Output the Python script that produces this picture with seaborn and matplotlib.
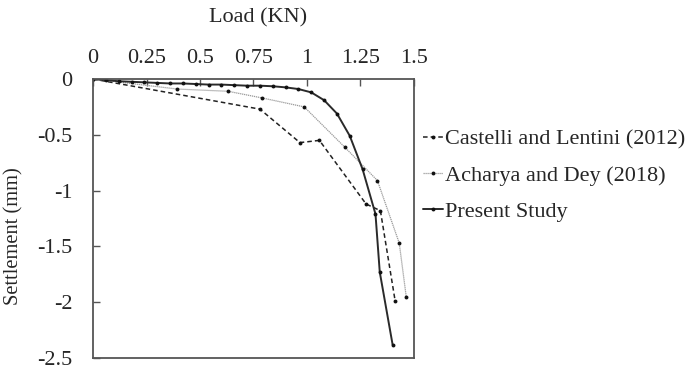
import matplotlib
matplotlib.use("Agg")
import matplotlib.pyplot as plt
import seaborn as sns
import pandas as pd

# Data
castelli_load = [0, 0.78, 0.967, 1.058, 1.276, 1.343, 1.412]
castelli_settle = [0, -0.27, -0.57, -0.55, -1.12, -1.18, -1.99]

acharya_load = [0, 0.394, 0.631, 0.791, 0.987, 1.176, 1.329, 1.431, 1.464]
acharya_settle = [0, -0.09, -0.11, -0.17, -0.25, -0.61, -0.91, -1.47, -1.955]

present_load = [0, 0.06, 0.12, 0.18, 0.24, 0.30, 0.36, 0.42, 0.48, 0.54, 0.60,
                0.66, 0.72, 0.78, 0.84, 0.90, 0.96, 1.02, 1.08, 1.14, 1.20,
                1.26, 1.32, 1.34, 1.40]
present_settle = [0, -0.01, -0.02, -0.025, -0.03, -0.035, -0.04, -0.04, -0.045,
                  -0.05, -0.05, -0.055, -0.06, -0.06, -0.065, -0.075, -0.09,
                  -0.12, -0.19, -0.31, -0.51, -0.81, -1.21, -1.73, -2.38]

x_ticks = [0, 0.25, 0.5, 0.75, 1, 1.25, 1.5]
x_tick_labels = ["0", "0.25", "0.5", "0.75", "1", "1.25", "1.5"]
y_ticks = [0, -0.5, -1, -1.5, -2, -2.5]
y_tick_labels = ["0", "-0.5", "-1", "-1.5", "-2", "-2.5"]

sns.set_style("white")
plt.rcParams["font.family"] = ["Liberation Serif", "DejaVu Serif"]
plt.rcParams["axes.unicode_minus"] = False

FS = 16
fig = plt.figure(figsize=(6.89, 3.70), dpi=100)
ax = fig.add_axes([93 / 689, 1 - 358 / 370, (414 - 93) / 689, (358 - 79) / 370])

sns.lineplot(x=castelli_load, y=castelli_settle, ax=ax, sort=False, estimator=None,
             color="#222222", linewidth=1.1, linestyle=(0, (3, 2)),
             marker="o", markersize=2.8, markeredgewidth=0, markerfacecolor="#111111",
             label="Castelli and Lentini (2012)")
sns.lineplot(x=acharya_load, y=acharya_settle, ax=ax, sort=False, estimator=None,
             color="#9a9a9a", linewidth=0.9, linestyle=(0, (1, 0.6)),
             marker="o", markersize=2.8, markeredgewidth=0, markerfacecolor="#111111",
             label="Acharya and Dey (2018)")
sns.lineplot(x=present_load, y=present_settle, ax=ax, sort=False, estimator=None,
             color="#2a2a2a", linewidth=1.4, linestyle="-",
             marker="o", markersize=2.8, markeredgewidth=0, markerfacecolor="#111111",
             label="Present Study")

ax.set_xlim(0, 1.5)
ax.set_ylim(-2.5, 0)
ax.set_xticks(x_ticks)
ax.set_xticklabels(x_tick_labels)
ax.set_yticks(y_ticks)
ax.set_yticklabels(y_tick_labels)

ax.xaxis.set_ticks_position("top")
ax.xaxis.set_label_position("top")
ax.tick_params(axis="x", which="both", direction="in", length=5, width=1,
               color="#555555", labelsize=FS, pad=8, top=True, bottom=False,
               labeltop=True, labelbottom=False)
ax.tick_params(axis="y", which="both", direction="in", length=5, width=1,
               color="#555555", labelsize=FS, pad=15, left=True, right=False)

for s in ax.spines.values():
    s.set_visible(True)
    s.set_color("#555555")
    s.set_linewidth(1.3)

ax.set_xlabel("Load (KN)", fontsize=FS)
ax.set_ylabel("Settlement (mm)", fontsize=14.8)
ax.xaxis.set_label_coords((258 - 93) / 321, (358 - 18) / 279)
ax.xaxis.label.set_va("center")
ax.yaxis.set_label_coords((14 - 93) / 321, (358 - 236) / 279)
ax.yaxis.label.set_va("center")

leg = ax.legend(loc="upper left", bbox_to_anchor=((423 - 93) / 321, (358 - 129) / 279),
                frameon=False, fontsize=FS, handlelength=0.9, handletextpad=0.1,
                labelspacing=0.7, borderaxespad=0.0, borderpad=0.0)

fig.savefig("out.png", dpi=100)
